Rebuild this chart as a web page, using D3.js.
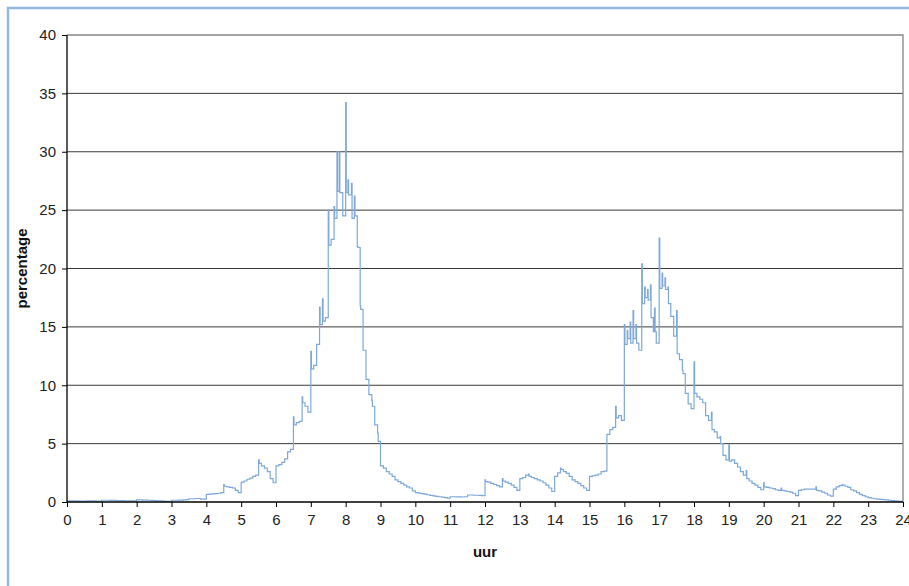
<!DOCTYPE html>
<html>
<head>
<meta charset="utf-8">
<script src="https://cdn.jsdelivr.net/npm/d3@7"></script>
<style>
  body { margin: 0; background: #fff; }
  svg { display: block; font-family: "Liberation Sans", Arial, sans-serif; }
  .tick text { font-size: 15px; fill: #222; }
  .axis-label { font-size: 15px; font-weight: bold; fill: #111; }
</style>
</head>
<body>
<div id="chart"></div>
<script>
// Data: percentage per 5-minute slot, one row per hour (00:00 .. 23:55)
const hourRows = [
  [0.10, 0.10, 0.10, 0.10, 0.08, 0.08, 0.08, 0.10, 0.10, 0.10, 0.08, 0.08],
  [0.15, 0.15, 0.15, 0.14, 0.14, 0.12, 0.12, 0.12, 0.10, 0.10, 0.10, 0.10],
  [0.18, 0.18, 0.16, 0.16, 0.15, 0.14, 0.12, 0.10, 0.10, 0.08, 0.06, 0.05],
  [0.15, 0.15, 0.16, 0.16, 0.18, 0.20, 0.28, 0.28, 0.30, 0.30, 0.25, 0.25],
  [0.65, 0.68, 0.70, 0.72, 0.75, 0.80, 1.35, 1.30, 1.25, 1.20, 1.00, 0.80],
  [1.70, 1.80, 1.95, 2.05, 2.20, 2.30, 3.30, 3.10, 2.90, 2.60, 2.00, 1.65],
  [3.10, 3.20, 3.40, 3.70, 4.30, 4.50, 6.60, 6.80, 6.90, 8.50, 8.20, 7.70],
  [11.4, 11.7, 13.5, 15.2, 15.5, 15.8, 22.0, 22.5, 24.3, 26.6, 26.5, 24.5],
  [26.5, 26.3, 24.3, 24.5, 21.8, 16.5, 13.0, 10.5, 9.2, 8.2, 6.6, 5.2],
  [3.1, 2.9, 2.6, 2.4, 2.2, 1.9, 1.75, 1.6, 1.45, 1.3, 1.2, 0.95],
  [0.80, 0.76, 0.72, 0.68, 0.62, 0.56, 0.52, 0.48, 0.45, 0.42, 0.38, 0.34],
  [0.45, 0.45, 0.44, 0.44, 0.43, 0.45, 0.60, 0.60, 0.58, 0.58, 0.57, 0.55],
  [1.75, 1.70, 1.60, 1.50, 1.40, 1.30, 1.80, 1.70, 1.60, 1.45, 1.25, 1.00],
  [2.00, 2.10, 2.30, 2.20, 2.10, 2.00, 1.90, 1.80, 1.65, 1.45, 1.20, 0.90],
  [2.20, 2.50, 2.80, 2.60, 2.45, 2.20, 1.90, 1.75, 1.60, 1.40, 1.20, 1.00],
  [2.20, 2.25, 2.30, 2.40, 2.60, 2.65, 5.80, 6.20, 6.40, 7.20, 7.40, 7.00],
  [13.5, 14.0, 13.6, 14.0, 13.6, 13.0, 17.0, 17.5, 17.3, 15.8, 14.6, 13.6],
  [18.3, 18.5, 18.2, 17.0, 15.9, 14.2, 12.7, 12.2, 11.0, 9.3, 8.4, 8.0],
  [9.3, 9.0, 8.8, 8.5, 7.4, 7.0, 6.2, 6.0, 5.5, 5.0, 4.0, 3.6],
  [3.5, 3.6, 3.3, 3.0, 2.6, 2.3, 2.0, 1.8, 1.6, 1.45, 1.25, 1.05],
  [1.30, 1.25, 1.20, 1.15, 1.05, 1.00, 1.00, 0.95, 0.90, 0.85, 0.75, 0.55],
  [1.00, 1.05, 1.10, 1.10, 1.10, 1.10, 1.00, 0.95, 0.85, 0.75, 0.60, 0.50],
  [1.10, 1.30, 1.40, 1.45, 1.35, 1.25, 1.05, 0.95, 0.80, 0.65, 0.55, 0.45],
  [0.37, 0.32, 0.28, 0.25, 0.23, 0.20, 0.18, 0.15, 0.12, 0.10, 0.08, 0.05]
];

// One-minute peaks (time of day, percentage)
const spikeTimes = ["4:30", "5:30", "6:30", "6:45", "7:00", "7:15", "7:20", "7:30", "7:40", "7:45",
  "7:49", "8:00", "8:04", "8:10", "8:15", "8:20", "8:25", "8:45", "8:55",
  "12:00", "12:30", "13:15", "14:10", "15:45", "16:00", "16:05", "16:10", "16:15", "16:20",
  "16:30", "16:35", "16:40", "16:45", "16:52", "17:00", "17:05", "17:10", "17:15",
  "17:30", "17:40", "18:00", "18:30", "18:45", "19:00", "19:30", "20:00", "20:30",
  "21:30", "22:15"];
const spikeValues = [1.5, 3.6, 7.3, 9.0, 12.9, 16.7, 17.4, 25.0, 25.3, 30.0,
  30.0, 34.2, 27.6, 27.3, 26.2, 21.9, 16.8, 8.7, 5.9,
  1.9, 2.0, 2.4, 2.9, 8.2, 15.2, 14.7, 15.4, 16.4, 15.2,
  20.4, 18.4, 18.2, 18.6, 16.6, 22.6, 19.6, 19.2, 18.4,
  16.4, 11.3, 12.0, 7.7, 5.6, 4.9, 2.7, 1.65, 1.2,
  1.3, 1.5];

const yTicks = [0, 5, 10, 15, 20, 25, 30, 35, 40];
const xTicks = d3.range(0, 25);

// Build minute series
const slotValues = hourRows.flat();
const minuteValues = d3.range(1440).map(m => slotValues[Math.floor(m / 5)]);
spikeTimes.forEach((s, i) => {
  const [h, mm] = s.split(":").map(Number);
  minuteValues[h * 60 + mm] = spikeValues[i];
});
const series = minuteValues.map((v, m) => ({ t: m / 60, v }));
series.push({ t: 24, v: minuteValues[1439] });

const W = 909, H = 586;
const plot = { left: 67, right: 903, top: 35, bottom: 502 };

const svg = d3.select("#chart").append("svg")
  .attr("width", W)
  .attr("height", H);

// Outer frame (right and bottom edges fall outside the picture)
svg.append("rect")
  .attr("x", 8).attr("y", 8)
  .attr("width", W + 20).attr("height", H + 20)
  .attr("fill", "none")
  .attr("stroke", "#94b9e0")
  .attr("stroke-width", 2.5);

const x = d3.scaleLinear().domain([0, 24]).range([plot.left, plot.right]);
const y = d3.scaleLinear().domain([0, 40]).range([plot.bottom, plot.top]);

// Gridlines
svg.append("g")
  .selectAll("line")
  .data(yTicks.filter(d => d > 0 && d < 40))
  .join("line")
  .attr("x1", plot.left).attr("x2", plot.right)
  .attr("y1", d => y(d)).attr("y2", d => y(d))
  .attr("stroke", "#3a3a3a")
  .attr("stroke-width", 1);

// Plot border top and right
svg.append("path")
  .attr("d", `M${plot.left},${y(40)}H${plot.right}V${plot.bottom}`)
  .attr("fill", "none")
  .attr("stroke", "#858585")
  .attr("stroke-width", 1.3);

// Data line
svg.append("path")
  .datum(series)
  .attr("fill", "none")
  .attr("stroke", "#7ea8d9")
  .attr("stroke-width", 1.2)
  .attr("d", d3.line()
    .curve(d3.curveStepAfter)
    .x(d => x(d.t))
    .y(d => y(d.v)));

// Axes
const xAxis = svg.append("g")
  .attr("transform", `translate(0,${plot.bottom})`)
  .call(d3.axisBottom(x).tickValues(xTicks).tickSize(5).tickPadding(7).tickFormat(d3.format("d")));

const yAxis = svg.append("g")
  .attr("transform", `translate(${plot.left},0)`)
  .call(d3.axisLeft(y).tickValues(yTicks).tickSize(5).tickPadding(6).tickFormat(d3.format("d")));

[xAxis, yAxis].forEach(a => {
  a.select(".domain").attr("stroke", "#000").attr("stroke-width", 1.3);
  a.selectAll(".tick line").attr("stroke", "#000");
});
xAxis.select(".domain").attr("d", `M${plot.left},0H${plot.right}`);
yAxis.select(".domain").attr("d", `M0,${plot.bottom}V${plot.top}`);

// Axis labels
svg.append("text")
  .attr("class", "axis-label")
  .attr("x", (plot.left + plot.right) / 2)
  .attr("y", 557)
  .attr("text-anchor", "middle")
  .text("uur");

svg.append("text")
  .attr("class", "axis-label")
  .attr("transform", `translate(27,${(plot.top + plot.bottom) / 2}) rotate(-90)`)
  .attr("text-anchor", "middle")
  .text("percentage");
</script>
</body>
</html>
